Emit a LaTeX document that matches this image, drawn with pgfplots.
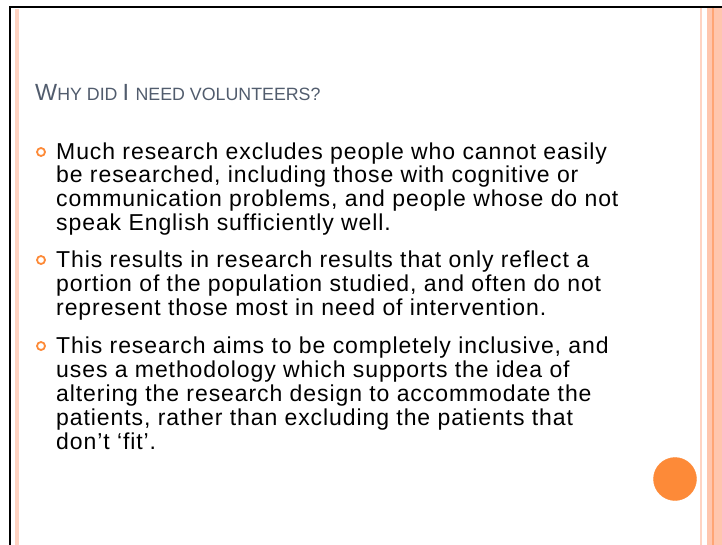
\documentclass[border=0pt]{standalone}
\usepackage{pgfplots}
\pgfplotsset{compat=1.18}
\usepackage{fontspec}
\setmainfont{Liberation Sans}
\newfontfamily\bodyfont[LetterSpace=4]{Liberation Sans}
\definecolor{titlegray}{HTML}{515C6D}
\definecolor{orangeA}{HTML}{FD8A38}
\definecolor{paleA}{HTML}{FFD3C2}
\definecolor{paleB}{HTML}{FFC6AE}
\definecolor{darkB}{HTML}{FFA575}
\newcommand{\body}{\bodyfont\fontsize{23}{24}\selectfont}
\newcommand{\bigc}{\fontsize{23.4}{28}\selectfont}
\newcommand{\smc}{\fontsize{17.8}{22}\selectfont}
\begin{document}
\begin{tikzpicture}
\begin{axis}[
  at={(0,0)}, anchor=south west,
  width=722pt, height=545pt, scale only axis,
  xmin=0, xmax=722, ymin=0, ymax=545, y dir=reverse,
  hide axis, clip=false,
]
% frame and stripes
\addplot[black, line width=2.6pt] coordinates {(10,545) (10,7) (722,7)};
\addplot[paleA, line width=4.5pt] coordinates {(17,9) (17,545)};
\addplot[paleA, line width=2.5pt] coordinates {(701,8.5) (701,545)};
\addplot[paleB, line width=15pt] coordinates {(714.5,8.5) (714.5,545)};
\addplot[darkB, line width=1.8pt] coordinates {(713,8.5) (713,545)};
% bullets
\addplot[only marks, mark=o, mark size=4pt, orangeA, line width=1.8pt] coordinates {(41,152) (41,260) (41,346)};
% circle
\addplot[only marks, mark=*, mark size=21.5pt, orangeA, draw=none] coordinates {(675,479)};
% title
\node[anchor=base west, inner sep=0pt, text=titlegray] at (axis cs:35,101)
 {\bigc W\smc HY DID \bigc I \smc NEED VOLUNTEERS?};
% body
\node[anchor=base west, inner sep=0pt] at (axis cs:56,159.5) {\body Much research excludes people who cannot easily};
\node[anchor=base west, inner sep=0pt] at (axis cs:56,183) {\body be researched, including those with cognitive or};
\node[anchor=base west, inner sep=0pt] at (axis cs:56,206.5) {\body communication problems, and people whose do not};
\node[anchor=base west, inner sep=0pt] at (axis cs:56,230.5) {\body speak English sufficiently well.};
\node[anchor=base west, inner sep=0pt] at (axis cs:56,267.5) {\body This results in research results that only reflect a};
\node[anchor=base west, inner sep=0pt] at (axis cs:56,291.5) {\body portion of the population studied, and often do not};
\node[anchor=base west, inner sep=0pt] at (axis cs:56,315.5) {\body represent those most in need of intervention.};
\node[anchor=base west, inner sep=0pt] at (axis cs:56,353.5) {\body This research aims to be completely inclusive, and};
\node[anchor=base west, inner sep=0pt] at (axis cs:56,377.5) {\body uses a methodology which supports the idea of};
\node[anchor=base west, inner sep=0pt] at (axis cs:56,401.5) {\body altering the research design to accommodate the};
\node[anchor=base west, inner sep=0pt] at (axis cs:56,425.5) {\body patients, rather than excluding the patients that};
\node[anchor=base west, inner sep=0pt] at (axis cs:56,449.5) {\body don’t ‘fit’.};
\end{axis}
\pgfresetboundingbox
\path[use as bounding box] (0,0) rectangle (722pt,545pt);
\end{tikzpicture}
\end{document}
